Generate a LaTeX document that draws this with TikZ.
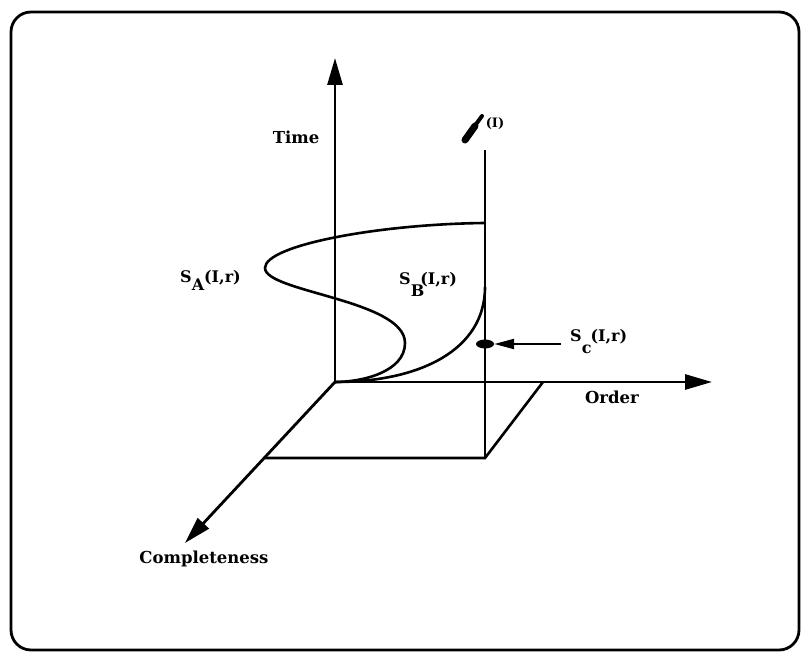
\documentclass[tikz,border=0pt]{standalone}
\usepackage{fontspec}
\setmainfont{DejaVu Serif}
\usetikzlibrary{arrows.meta,shapes.geometric}
\begin{document}
\begin{tikzpicture}[x=1pt,y=-1pt,
  axisline/.style={line width=2.8pt,-{Triangle[length=27pt,width=15pt]}},
  plain/.style={line width=2.6pt},
  curve/.style={line width=2.6pt},
  lbl/.style={font=\fontsize{16.5}{19}\selectfont\bfseries, inner sep=0pt},
  slbl/.style={font=\fontsize{16}{19}\selectfont\bfseries, inner sep=0pt}]
\useasboundingbox (0,0) rectangle (801,652);
\draw[line width=2.8pt, rounded corners=20pt] (11,12) rectangle (799,650);
% coordinates
\coordinate (O) at (335,382);
\coordinate (T) at (335,58);
\coordinate (X) at (712,382);
\coordinate (C) at (185,543);
\coordinate (F1) at (543,382);
\coordinate (F2) at (485,458);
\coordinate (F3) at (264,458);
\coordinate (V) at (485,150);
\coordinate (SAtop) at (485,223);
\coordinate (SBtop) at (485,287);
% axes
\draw[axisline] (O) -- (T);
\draw[axisline] (O) -- (X);
\draw[axisline] (O) -- (C);
% floor
\draw[plain] (F1) -- (F2) -- (F3);
\draw[plain] (V) -- (F2);
% curves
\draw[curve] (SAtop) .. controls (380,224) and (265,245) .. (265,268)
  .. controls (265,292) and (405,300) .. (405,343)
  .. controls (405,372) and (362,382) .. (O);
\draw[curve] (SBtop) .. controls (485,350) and (420,382) .. (O);
% dot
\node[fill=black, ellipse, minimum width=18pt, minimum height=9pt, inner sep=0pt] (dot) at (485,344) {};
\draw[line width=2.2pt,-{Triangle[length=20pt,width=10pt]}] (561,344) -- (dot.east);
% glyph
\draw[line width=7pt,line cap=round] (465,140) -- (475,126);
\draw[line width=4pt,line cap=round] (474,127) -- (482,116);
\node[font=\fontsize{13}{15}\selectfont\bfseries, inner sep=0pt] (I) at (495,124) {(I)};
% labels
\node[lbl] (time) at (296,137) {Time};
\node[lbl] (order) at (612,397) {Order};
\node[lbl] (comp) at (204,559) {Completeness};
\node[slbl, anchor=west] (sa) at (180,280) {S\raisebox{-8pt}{A}(I,r)};
\node[slbl, anchor=west] (sb) at (399,284) {S\raisebox{-12pt}{B}\hspace{-4pt}(I,r)};
\node[slbl, anchor=west] (sc) at (570,342) {S\raisebox{-12pt}{c}\hspace{-1pt}(I,r)};
\end{tikzpicture}
\end{document}
